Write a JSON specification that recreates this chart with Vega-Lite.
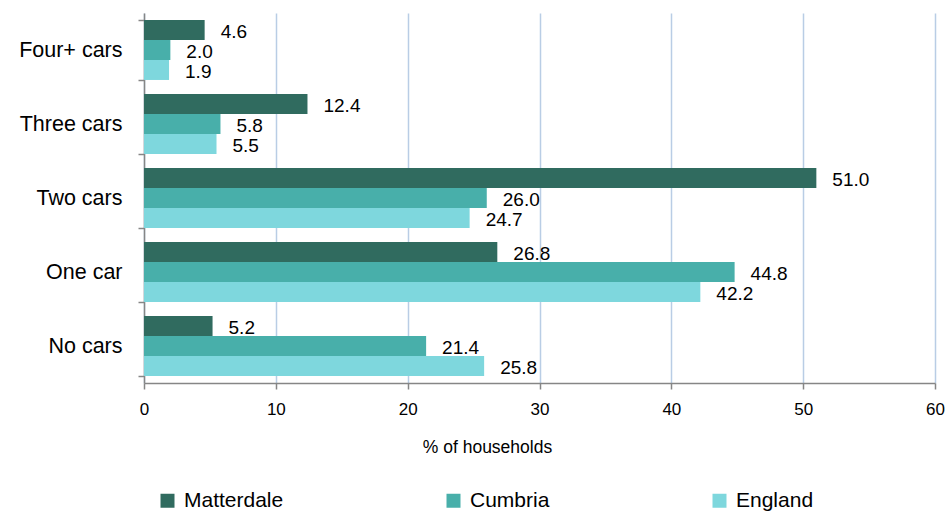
{
  "$schema": "https://vega.github.io/schema/vega-lite/v6.json",
  "width": 791,
  "height": 370,
  "autosize": {"type": "none"},
  "padding": {"left": 144, "top": 13, "right": 11, "bottom": 129},
  "background": "white",
  "config": {
    "view": {"stroke": null},
    "font": "Liberation Sans",
    "axis": {"labelFont": "Liberation Sans", "titleFont": "Liberation Sans", "labelColor": "#000000", "titleColor": "#000000"},
    "legend": {"labelFont": "Liberation Sans"}
  },
  "data": {
    "values": [
      {"category": "Four+ cars", "area": "Matterdale", "pct": 4.6},
      {"category": "Four+ cars", "area": "Cumbria", "pct": 2.0},
      {"category": "Four+ cars", "area": "England", "pct": 1.9},
      {"category": "Three cars", "area": "Matterdale", "pct": 12.4},
      {"category": "Three cars", "area": "Cumbria", "pct": 5.8},
      {"category": "Three cars", "area": "England", "pct": 5.5},
      {"category": "Two cars", "area": "Matterdale", "pct": 51.0},
      {"category": "Two cars", "area": "Cumbria", "pct": 26.0},
      {"category": "Two cars", "area": "England", "pct": 24.7},
      {"category": "One car", "area": "Matterdale", "pct": 26.8},
      {"category": "One car", "area": "Cumbria", "pct": 44.8},
      {"category": "One car", "area": "England", "pct": 42.2},
      {"category": "No cars", "area": "Matterdale", "pct": 5.2},
      {"category": "No cars", "area": "Cumbria", "pct": 21.4},
      {"category": "No cars", "area": "England", "pct": 25.8}
    ]
  },
  "encoding": {
    "y": {
      "field": "category",
      "type": "nominal",
      "sort": ["Four+ cars", "Three cars", "Two cars", "One car", "No cars"],
      "scale": {"paddingInner": 0.19, "paddingOuter": 0.095},
      "axis": {
        "title": null,
        "tickBand": "extent",
        "grid": false,
        "domainColor": "#868686",
        "domainWidth": 1.5,
        "tickColor": "#868686",
        "tickWidth": 1.5,
        "tickSize": 6,
        "labelFontSize": 21.5,
        "labelPadding": 16
      }
    },
    "yOffset": {
      "field": "area",
      "type": "nominal",
      "sort": ["Matterdale", "Cumbria", "England"],
      "scale": {"paddingInner": 0, "paddingOuter": 0}
    },
    "x": {
      "field": "pct",
      "type": "quantitative",
      "scale": {"domain": [0, 60], "nice": false},
      "axis": {
        "title": "% of households",
        "values": [0, 10, 20, 30, 40, 50, 60],
        "labelFlush": false,
        "grid": true,
        "gridColor": "#B9CDE5",
        "gridWidth": 1.5,
        "domainColor": "#868686",
        "domainWidth": 1.5,
        "tickColor": "#868686",
        "tickWidth": 1.5,
        "tickSize": 6,
        "labelFontSize": 17,
        "labelPadding": 12,
        "titleFontSize": 17.5,
        "titleFontWeight": "normal",
        "titleX": 343,
        "titleY": 64,
        "titleAlign": "center",
        "titleBaseline": "middle",
        "titleAnchor": null
      }
    }
  },
  "layer": [
    {
      "mark": {"type": "bar"},
      "encoding": {
        "color": {
          "field": "area",
          "type": "nominal",
          "sort": ["Matterdale", "Cumbria", "England"],
          "scale": {"domain": ["Matterdale", "Cumbria", "England"], "range": ["#306B5F", "#48AFAA", "#7ED7DD"]},
          "legend": {
            "title": null,
            "orient": "none",
            "direction": "horizontal",
            "legendX": 13,
            "legendY": 477,
            "symbolType": "square",
            "symbolSize": 196,
            "symbolStrokeWidth": 0,
            "labelFontSize": 21,
            "labelOffset": 6,
            "columnPadding": 159
          }
        }
      }
    },
    {
      "mark": {"type": "text", "align": "left", "baseline": "middle", "dx": 16, "dy": 2, "fontSize": 19, "color": "#000000"},
      "encoding": {
        "text": {"field": "pct", "type": "quantitative", "format": ".1f"}
      }
    }
  ]
}
